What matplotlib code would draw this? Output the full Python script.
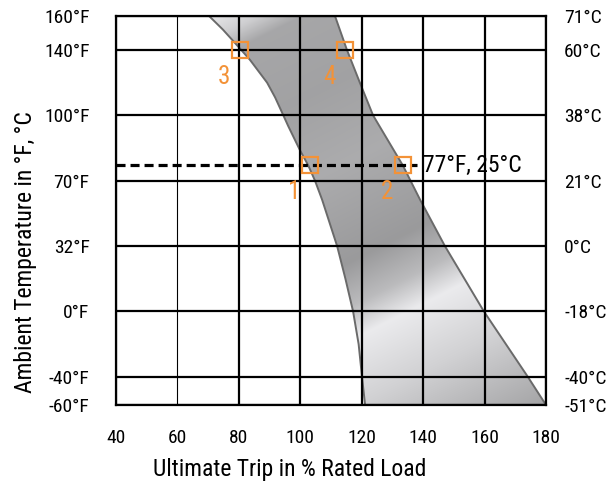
import numpy as np
import matplotlib
matplotlib.use('Agg')
import matplotlib.pyplot as plt

plt.rcParams['font.family'] = ['Roboto Condensed', 'DejaVu Sans']
plt.rcParams['lines.scale_dashes'] = False

# lower trip limit curve: temperature (deg F) -> % rated load
lower_temp = [160, 152, 143, 134, 120, 111, 102, 95, 84, 77, 70, 59, 32, 16, 0, -20, -40, -60]
lower_trip = [70.3, 74.8, 79.3, 83.6, 89.2, 91.8, 94.0, 96.1, 99.9, 102.6, 104.8,
              107.1, 112.0, 114.7, 117.2, 119.0, 120.1, 121.1]
# upper trip limit curve
upper_temp = [160, 140, 120, 100, 77, 59, 32, 0, -40, -60]
upper_trip = [111.3, 115.2, 119.4, 123.7, 133.4, 139.0, 147.1, 159.8, 174.1, 180]

# marked points
pt_labels = ['3', '4', '1', '2']
pt_load = [80.4, 114.6, 103.2, 133.4]
pt_temp = [140, 140, 77, 77]

ref_temp = 77
ref_label = '77°F, 25°C'

x_ticks = [40, 60, 80, 100, 120, 140, 160, 180]
f_ticks = [-60, -40, 0, 32, 70, 100, 140, 160]
f_labels = ['-60°F', '-40°F', '0°F', '32°F', '70°F', '100°F', '140°F', '160°F']
c_labels = ['-51°C', '-40°C', '-18°C', '0°C', '21°C', '38°C', '60°C', '71°C']
# grid rows on the chart (piecewise temperature axis)
f_rows = [-0.43, 0, 1, 2, 3, 4, 5, 5.52]


def fwd(v):
    return np.interp(v, f_ticks, f_rows)


def inv(v):
    return np.interp(v, f_rows, f_ticks)


fig = plt.figure(figsize=(6.15, 4.87), dpi=100)
ax = fig.add_axes([0.1886, 0.1684, 0.6992, 0.7988])
ax.set_yscale('function', functions=(fwd, inv))
ax.set_xlim(40, 180)
ax.set_ylim(-60, 160)

# band with metallic gradient
band_x = np.r_[lower_trip, upper_trip[::-1]]
band_y = np.r_[lower_temp, upper_temp[::-1]]
band = ax.fill(band_x, band_y, facecolor='none', edgecolor='none', zorder=1)[0]
u = np.linspace(0, 1, 430)
w = np.linspace(0, 1, 389)
U, W = np.meshgrid(u, w)
t = 66 + 193 * U + 346 * W
stops_t = [100, 130, 150, 224, 300, 390, 430, 460, 520, 600]
stops_g = [0.96, 0.82, 0.66, 0.64, 0.68, 0.61, 0.74, 0.93, 0.83, 0.66]
g = np.interp(t, stops_t, stops_g)
rgb = np.dstack([g * 0.99, g * 0.99, g * 1.0])
im = ax.imshow(rgb, extent=[0, 1, 0, 1], transform=ax.transAxes,
               aspect='auto', zorder=0.5, interpolation='bilinear')
im.set_clip_path(band)
ax.set_xlim(40, 180)
ax.set_ylim(-60, 160)

ax.plot(lower_trip, lower_temp, color='#6a6a6a', lw=1.4, zorder=1.5)
ax.plot(upper_trip, upper_temp, color='#6a6a6a', lw=1.4, zorder=1.5)

# grid
ax.set_axisbelow(False)
ax.set_xticks(x_ticks)
ax.set_yticks(f_ticks)
ax.set_yticklabels(f_labels)
ax.grid(True, color='black', lw=1.6)
ax.xaxis.get_gridlines()[1].set_linewidth(0.8)
for s in ax.spines.values():
    s.set_linewidth(1.6)
ax.tick_params(length=0, labelsize=14)
ax.tick_params(axis='y', pad=19)
ax.tick_params(axis='x', pad=17)

ax2 = ax.twinx()
ax2.set_yscale('function', functions=(fwd, inv))
ax2.set_ylim(-60, 160)
ax2.set_yticks(f_ticks)
ax2.set_yticklabels(c_labels)
ax2.tick_params(length=0, labelsize=14, pad=13)
for s in ax2.spines.values():
    s.set_visible(False)

# 77F reference line
ax.plot([40, 138], [ref_temp, ref_temp], color='black', lw=2.3,
        dashes=(6.5, 3.6), zorder=3)
ax.annotate(ref_label, (138, ref_temp), xytext=(6, 0), textcoords='offset pixels',
            ha='left', va='center', fontsize=17, annotation_clip=False)

ax.plot(pt_load, pt_temp, 's', ms=11.5, mfc='none', mec='#f39237', mew=1.6, zorder=4)
for lab, x, y in zip(pt_labels, pt_load, pt_temp):
    ax.annotate(lab, (x, y), xytext=(-16, -27), textcoords='offset pixels',
                ha='center', va='center', fontsize=18, color='#f39237')

fig.text(0.4715, 0.035, 'Ultimate Trip in % Rated Load', ha='center',
         va='center', fontsize=17)
fig.text(0.041, 0.4825, 'Ambient Temperature in °F, °C', ha='center',
         va='center', rotation=90, fontsize=17)

fig.savefig('out.png', dpi=100)
